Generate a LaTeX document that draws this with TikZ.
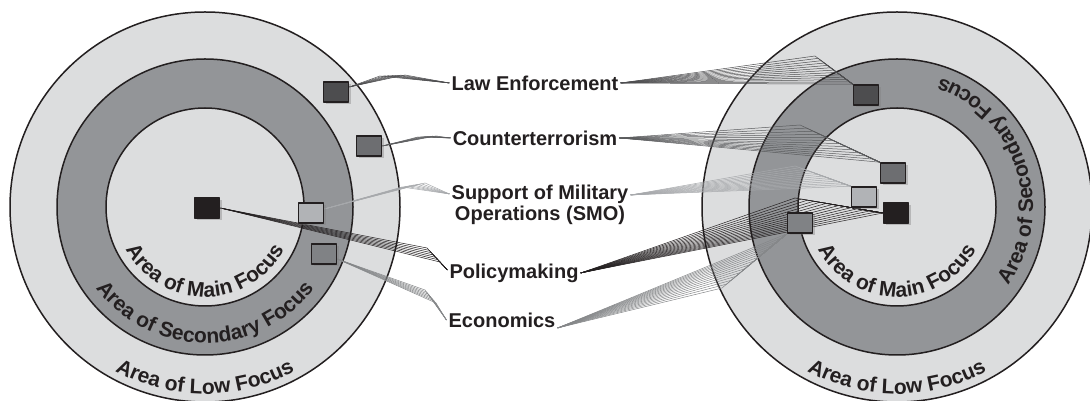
\documentclass[tikz,border=0pt]{standalone}
\usepackage{fontspec}
\setmainfont{Liberation Sans}
\usetikzlibrary{calc,shadows,decorations.text}
\definecolor{ink}{HTML}{231F20}
\definecolor{ringlight}{HTML}{DCDDDE}
\definecolor{ringdark}{HTML}{939598}
\definecolor{colle}{HTML}{4D4D4F}
\definecolor{colct}{HTML}{6D6E71}
\definecolor{colsmo}{HTML}{B1B3B6}
\definecolor{coleco}{HTML}{808285}
\definecolor{fanle}{HTML}{4D4D4F}
\definecolor{fanct}{HTML}{5A5B5D}
\definecolor{fansmo}{HTML}{A7A9AC}
\definecolor{faneco}{HTML}{858789}
\pgfdeclarelayer{back}
\pgfdeclarelayer{mid}
\pgfsetlayers{back,mid,main}
\newcommand{\ringfont}{\bfseries\fontsize{21}{21}\selectfont\color{ink}}
\tikzset{
	box/.style={draw=ink,line width=1.6pt,minimum width=25pt,minimum height=20pt,inner sep=0pt,
		drop shadow={shadow xshift=2.5pt,shadow yshift=-2.5pt,opacity=.4}},
	lbl/.style={font=\bfseries\fontsize{20}{21}\selectfont,text=ink,inner sep=2pt,align=center},
	ring/.style={draw=ink,line width=1.5pt},
	fan/.style={line width=.5pt}
}
\begin{document}
\begin{tikzpicture}[line join=round, line cap=round, x=1pt, y=1pt]
		\useasboundingbox (0,0) rectangle (1090,401);
		\coordinate (lc) at (205,194);
		\coordinate (rc) at (897,194);
		% squares
		\node[box,fill=colle] (lle) at (336,309) {};
		\node[box,fill=colct] (lct) at (369,255) {};
		\node[box,fill=colsmo] (lsmo) at (311,188) {};
		\node[box,fill=ink] (lpol) at (207,193) {};
		\node[box,fill=coleco] (leco) at (324,147) {};
		\node[box,fill=colle] (rle) at (866,306) {};
		\node[box,fill=colct] (rct) at (893,228) {};
		\node[box,fill=colsmo] (rsmo) at (864,204) {};
		\node[box,fill=ink] (rpol) at (896,188) {};
		\node[box,fill=coleco] (reco) at (800,178) {};
		% labels
		\node[lbl] (le) at (535,318) {Law Enforcement};
		\node[lbl] (ct) at (535,263) {Counterterrorism};
		\node[lbl] (smo) at (540,196) {Support of Military\\Operations (SMO)};
		\node[lbl] (pol) at (514,128) {Policymaking};
		\node[lbl] (eco) at (502,81) {Economics};
		% connector ends
		\coordinate (lleo) at ([yshift=5pt]lle.east);
		\coordinate (lsmoo) at ([yshift=4pt]lsmo.east);
		\coordinate (lecoo) at ([yshift=-5pt]leco.east);
		\coordinate (smol) at ([yshift=11pt]smo.west);
		\coordinate (smor) at ([yshift=10pt]smo.east);
		\coordinate (poll) at ([yshift=3pt]pol.west);
		\coordinate (ecor) at ([yshift=-8pt]eco.east);
		% rings
		\begin{pgfonlayer}{back}
		\foreach \c in {lc,rc} {
			\filldraw[ring,fill=ringlight] (\c) circle (195pt);
			\filldraw[ring,fill=ringdark] (\c) circle (148pt);
			\filldraw[ring,fill=ringlight] (\c) circle (99pt);
			\path[decorate,decoration={text along path,text align=center,text={|\ringfont|Area of Main Focus}}]
				($(\c)+(190:90pt)$) arc[start angle=190,end angle=350,radius=90pt];
			\path[decorate,decoration={text along path,text align=center,text={|\ringfont|Area of Low Focus}}]
				($(\c)+(220:187pt)$) arc[start angle=220,end angle=320,radius=187pt];
		}
		\path[decorate,decoration={text along path,text align=center,text={|\ringfont|Area of Secondary Focus}}]
			($(lc)+(200:136pt)$) arc[start angle=200,end angle=340,radius=136pt];
		\path[decorate,decoration={text along path,text align=center,text={|\ringfont|Area of Secondary Focus}}]
			($(rc)+(-70:136pt)$) arc[start angle=-70,end angle=106,radius=136pt];
		\end{pgfonlayer}
		% connectors
		\begin{pgfonlayer}{mid}
		\foreach \s/\a/\b/\e/\c/\n in {
			lleo/{380,325}/{405,326}/le.west/fanle/6,
			lct.east/{418,264}/{436,265}/ct.west/fanct/5,
			lsmoo/{402,214}/{425,218}/smol/fansmo/6,
			lpol.east/{427,153}/{440,139}/poll/ink/6,
			lecoo/{425,111}/{436,98}/eco.west/faneco/6,
			rle.north west/{815,345}/rle.north west/le.east/fanle/12,
			rct.north west/{800,276}/rct.north west/ct.east/fanct/12,
			rsmo.north west/{795,235}/rsmo.north west/smor/fansmo/12,
			rpol.west/{795,203}/rpol.west/pol.east/ink/14,
			reco.south west/{722,113}/reco.south west/ecor/faneco/14}
			\foreach \i in {0,...,\n}
			\draw[fan,draw=\c] (\s) -- ($(\a)!{\i/\n}!(\b)$) -- (\e);
		\end{pgfonlayer}
\end{tikzpicture}
\end{document}
